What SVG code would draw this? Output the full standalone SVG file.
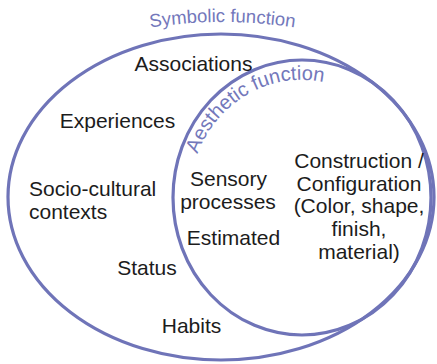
<svg xmlns="http://www.w3.org/2000/svg" xmlns:xlink="http://www.w3.org/1999/xlink" width="437" height="364" viewBox="0 0 437 364">
<style>
.ring{fill:none;stroke:#6f74b8;stroke-width:3.2}
.lbl{font-family:"Liberation Sans",Arial,sans-serif;font-size:21px;fill:#1c1c1c}
.mid{text-anchor:middle}
.arc{font-family:"Liberation Sans",Arial,sans-serif;fill:#7378bb}
</style>
<defs>
<path id="symPath" d="M 130 31 Q 222 13 315 31"/>
<path id="aesPath" d="M 197.5 154 A 112 117 0 0 1 374 107.4"/>
</defs>
<rect width="437" height="364" fill="#ffffff"/>
<g id="symbolic">
<ellipse class="ring" cx="221" cy="197" rx="213" ry="163"/>
<text class="arc" font-size="18.5" text-anchor="middle"><textPath href="#symPath" xlink:href="#symPath" startOffset="50%">Symbolic function</textPath></text>
</g>
<g id="aesthetic">
<ellipse class="ring" cx="302" cy="197.5" rx="129" ry="137.5"/>
<text class="arc" font-size="20"><textPath href="#aesPath" xlink:href="#aesPath">Aesthetic function</textPath></text>
</g>
<g id="connectors"></g>
<g id="labels-symbolic">
<text class="lbl mid" x="193.5" y="71">Associations</text>
<text class="lbl mid" x="117.5" y="128">Experiences</text>
<text class="lbl" x="29" y="196">Socio-cultural<tspan x="29" y="219">contexts</tspan></text>
<text class="lbl mid" x="147" y="275">Status</text>
<text class="lbl mid" x="191.5" y="333">Habits</text>
</g>
<g id="labels-overlap">
<text class="lbl mid" x="228.5" y="186">Sensory</text>
<text class="lbl mid" x="228" y="209">processes</text>
<text class="lbl mid" x="233.5" y="245">Estimated</text>
</g>
<g id="labels-aesthetic">
<text class="lbl mid" x="359" y="168">Construction /</text>
<text class="lbl mid" x="359" y="191">Configuration</text>
<text class="lbl mid" x="359" y="213">(Color, shape,</text>
<text class="lbl mid" x="359" y="236">finish,</text>
<text class="lbl mid" x="359" y="259">material)</text>
</g>
</svg>
